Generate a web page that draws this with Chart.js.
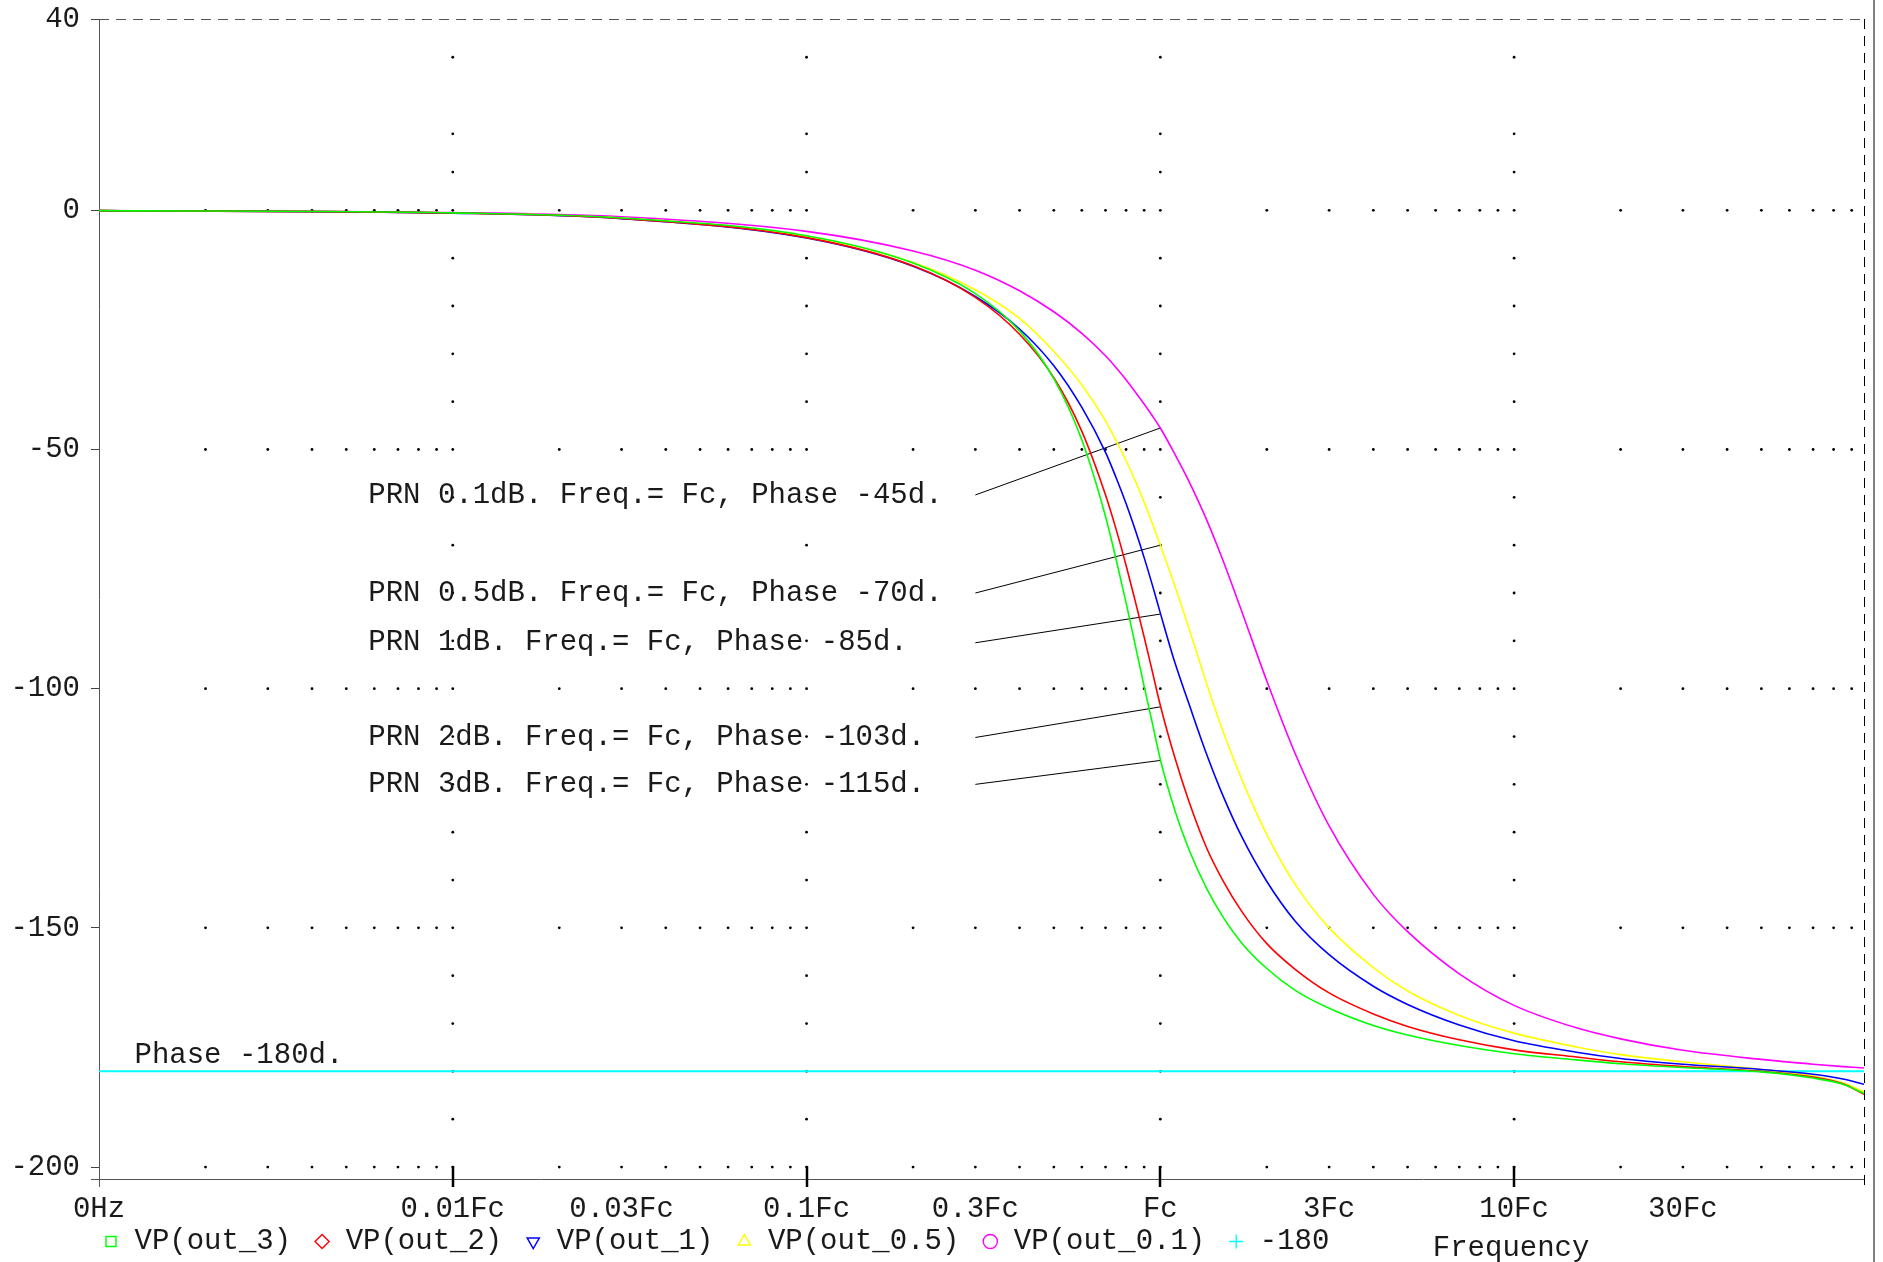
<!DOCTYPE html>
<html>
<head>
<meta charset="utf-8">
<title>Phase response</title>
<script src="https://cdn.jsdelivr.net/npm/chart.js@4.4.1/dist/chart.umd.min.js"></script>
<style>
  html, body { margin: 0; padding: 0; background: #fff; }
</style>
</head>
<body>
<canvas id="chart1" width="1883" height="1262"></canvas>
<script>
// frequency points, in units of Fc
var freq = [0.001, 0.01, 0.03, 0.1, 0.2, 0.3, 0.4, 0.5, 0.6, 0.7, 0.75, 0.8, 0.85, 0.9, 0.95,
  1, 1.1, 1.2, 1.35, 1.5, 1.7, 2, 2.4, 3, 4, 5, 7, 10, 15, 20, 30, 50, 70, 85, 97.5];

// phase in degrees
var out3 = [-0.06, -0.53, -1.6, -5.3, -11, -17.4, -25.2, -35.2, -48, -64, -73, -82, -91, -99.5, -107.3,
  -114.8, -125.5, -133.3, -141.7, -147.6, -153.2, -158.5, -163, -166.8, -170.4, -172.4, -174.6, -176.3, -177.6, -178.4, -179.2, -180.1, -181.4, -182.7, -184.6];
var out2 = [-0.06, -0.57, -1.7, -5.7, -11.6, -18.2, -25.9, -35, -46.2, -59.5, -66.7, -74.2, -81.8, -89.2, -96.5,
  -103.5, -114.5, -123.2, -133.2, -140, -146.6, -153.3, -158.6, -163.6, -168, -170.6, -173.4, -175.5, -177, -178, -179, -180, -181.2, -182.6, -184.8];
var out1 = [-0.06, -0.58, -1.75, -5.8, -11.7, -18, -24.8, -32.5, -41.2, -50.6, -55.9, -61.3, -66.9, -72.6, -78.4,
  -84.2, -94.6, -102.8, -113.6, -122.2, -131, -140.3, -148.5, -155.6, -162.2, -166, -170.3, -173.6, -176, -177.3, -178.5, -179.6, -180.6, -181.6, -182.7];
var out05 = [-0.06, -0.55, -1.6, -5.4, -10.9, -16.6, -22.6, -29.5, -36.5, -44, -48.2, -52.3, -56.6, -61, -65.5,
  -70, -78.6, -87, -98.8, -108.7, -119, -130.5, -140.8, -150, -158.3, -163.2, -168.3, -172, -174.9, -176.5, -178, -179.6, -181, -182.4, -184.3];
var out01 = [-0.05, -0.45, -1.35, -4.4, -8.5, -12.5, -16.8, -21.2, -25.7, -30.4, -32.9, -35.4, -38, -40.5, -43,
  -45.5, -51, -56.4, -64.6, -73, -83.9, -98.4, -113.4, -128.7, -143, -150.8, -159.6, -166.2, -170.9, -173.2, -175.6, -177.5, -178.5, -179, -179.3];
var refFreq = [0.001, 97.5];
var refPhase = [-180, -180];

var seriesNames = ["VP(out_3)", "VP(out_2)", "VP(out_1)", "VP(out_0.5)", "VP(out_0.1)", "-180"];
var seriesColors = ["#00ff00", "#ff0000", "#0000ff", "#ffff00", "#ff00ff", "#00ffff"];
var seriesMarks = ["rect", "rectRot", "triangle", "triangle", "circle", "cross"];
var seriesTurn = [0, 0, 180, 0, 0, 0];

// axes
var xMin = 0.001, xMax = 97.5;
var yMin = -202.5, yMax = 40;
var xTickVals = [0.001, 0.01, 0.03, 0.1, 0.3, 1, 3, 10, 30];
var xTickLabels = ["0Hz", "0.01Fc", "0.03Fc", "0.1Fc", "0.3Fc", "Fc", "3Fc", "10Fc", "30Fc"];
var yTickVals = [40, 0, -50, -100, -150, -200];
var decades = [0.01, 0.1, 1, 10];
var colDots = [32, 16, 8, -10, -20, -30, -40, -60, -70, -80, -90, -110, -120, -130, -140,
  -160, -170, -180, -190];

// notes
var noteText = [
  "PRN 0.1dB. Freq.= Fc, Phase -45d.",
  "PRN 0.5dB. Freq.= Fc, Phase -70d.",
  "PRN 1dB. Freq.= Fc, Phase -85d.",
  "PRN 2dB. Freq.= Fc, Phase -103d.",
  "PRN 3dB. Freq.= Fc, Phase -115d."
];
var noteFromY = [-59.5, -80, -90.4, -110.2, -120];
var noteToY = [-45.5, -70, -84.4, -103.8, -115];
var noteTextX = 0.00577, noteFromX = 0.3, noteToX = 1;
var phaseNote = "Phase -180d.";
var phaseNoteX = 0.00126, phaseNoteY = -176.6;

var FONT = '"Liberation Mono", "DejaVu Sans Mono", monospace';
Chart.defaults.font.family = FONT;
Chart.defaults.font.size = 29;
Chart.defaults.color = "#1a1a1a";

function pts(xs, ys) {
  return xs.map(function (f, i) { return { x: f, y: ys[i] }; });
}

var curves = [out3, out2, out1, out05, out01];
var datasets = curves.map(function (vals, i) {
  return {
    label: seriesNames[i],
    data: pts(freq, vals),
    borderColor: seriesColors[i],
    borderWidth: 1.6,
    pointRadius: 0,
    cubicInterpolationMode: "monotone",
  };
});
datasets.push({
  label: seriesNames[5],
  data: pts(refFreq, refPhase),
  borderColor: seriesColors[5],
  borderWidth: 2,
  pointRadius: 0,
});
// leader lines for the notes
noteText.forEach(function (t, i) {
  datasets.push({
    label: "note" + i,
    data: [{ x: noteFromX, y: noteFromY[i] }, { x: noteToX, y: noteToY[i] }],
    borderColor: "#000",
    borderWidth: 1,
    pointRadius: 0,
  });
});

function dot(ctx, x, y) {
  ctx.beginPath();
  ctx.arc(x, y, 1.4, 0, Math.PI * 2);
  ctx.fill();
}

// dotted grid, frame pieces and the free text
var plotExtras = {
  id: "plotExtras",
  afterLayout: function (chart) {
    // legend row starts just left of the plot, like the original
    chart.legend.left = chart.chartArea.left - 19;
    chart.legend.top += 4;
  },
  beforeDatasetsDraw: function (chart) {
    var ctx = chart.ctx, x = chart.scales.x, y = chart.scales.y;
    ctx.save();
    ctx.fillStyle = "#000";
    yTickVals.forEach(function (v) {
      if (v >= yMax) return;
      var py = y.getPixelForValue(v);
      for (var k = -3; k <= 1; k++) {
        for (var m = 1; m <= 9; m++) {
          var f = m * Math.pow(10, k);
          if (f < xMin * 1.01 || f > xMax) continue;
          dot(ctx, x.getPixelForValue(f), py);
        }
      }
    });
    decades.forEach(function (f) {
      var px = x.getPixelForValue(f);
      colDots.forEach(function (v) { dot(ctx, px, y.getPixelForValue(v)); });
    });
    ctx.restore();
  },
  afterDraw: function (chart) {
    var ctx = chart.ctx, a = chart.chartArea, x = chart.scales.x, y = chart.scales.y;
    ctx.save();
    // top and right edges of the frame
    ctx.setLineDash([10, 7]);
    ctx.lineWidth = 1;
    ctx.strokeStyle = "#555";
    ctx.beginPath();
    ctx.moveTo(a.left, a.top + 0.5);
    ctx.lineTo(a.right, a.top + 0.5);
    ctx.stroke();
    ctx.strokeStyle = "#000";
    ctx.beginPath();
    ctx.moveTo(a.right + 0.5, a.top);
    ctx.lineTo(a.right + 0.5, a.bottom + 8);
    ctx.stroke();
    ctx.setLineDash([]);
    // corner bits
    ctx.strokeStyle = "#555";
    ctx.beginPath();
    ctx.moveTo(a.left - 8, a.bottom + 0.5);
    ctx.lineTo(a.left, a.bottom + 0.5);
    ctx.moveTo(a.left + 0.5, a.bottom);
    ctx.lineTo(a.left + 0.5, a.bottom + 8);
    ctx.stroke();
    // decade ticks on the x axis
    ctx.strokeStyle = "#000";
    ctx.lineWidth = 2.5;
    decades.forEach(function (f) {
      var px = Math.round(x.getPixelForValue(f));
      ctx.beginPath();
      ctx.moveTo(px, a.bottom - 13);
      ctx.lineTo(px, a.bottom + 8);
      ctx.stroke();
    });
    // window edge on the right
    ctx.fillStyle = "#808080";
    ctx.fillRect(a.right + 9, 0, 2, chart.height);
    // texts
    ctx.fillStyle = "#1a1a1a";
    ctx.font = "29px " + FONT;
    ctx.textBaseline = "middle";
    ctx.textAlign = "left";
    noteText.forEach(function (t, i) {
      ctx.fillText(t, x.getPixelForValue(noteTextX), y.getPixelForValue(noteFromY[i]));
    });
    ctx.fillText(phaseNote, x.getPixelForValue(phaseNoteX), y.getPixelForValue(phaseNoteY));
    ctx.textAlign = "center";
    ctx.fillText("Frequency", x.getPixelForValue(10) - 3, a.bottom + 69);
    ctx.restore();
  },
};

var ctx = document.getElementById("chart1").getContext("2d");
var myChart = new Chart(ctx, {
  type: "line",
  data: { datasets: datasets },
  plugins: [plotExtras],
  options: {
    responsive: false,
    animation: false,
    events: [],
    layout: { padding: { left: 0, top: 19, right: 19, bottom: 0 } },
    scales: {
      x: {
        type: "logarithmic",
        min: xMin,
        max: xMax,
        afterBuildTicks: function (s) {
          s.ticks = xTickVals.map(function (v) { return { value: v }; });
        },
        afterFit: function (s) {
          s.height = 22;
          s.paddingLeft = 0;
          s.paddingRight = 0;
        },
        ticks: {
          autoSkip: false,
          maxRotation: 0,
          // mirrored so the labels are not clipped to the short axis box,
          // negative padding puts them back below the axis line
          mirror: true,
          padding: -48,
          callback: function (v, i) { return xTickLabels[i]; },
        },
        grid: { display: false, drawTicks: false },
        border: { display: true, color: "#555", width: 1, dash: [10, 7] },
      },
      y: {
        type: "linear",
        min: yMin,
        max: yMax,
        afterBuildTicks: function (s) {
          s.ticks = yTickVals.map(function (v) { return { value: v }; });
        },
        afterFit: function (s) {
          s.width = 99;
          s.paddingTop = 0;
          s.paddingBottom = 0;
        },
        ticks: {
          padding: 11,
          callback: function (v) { return String(v); },
        },
        grid: { drawOnChartArea: false, drawTicks: true, tickLength: 8, color: "#444" },
        border: { display: true, color: "#555", width: 1, dash: [10, 7] },
      },
    },
    plugins: {
      tooltip: { enabled: false },
      legend: {
        position: "bottom",
        align: "start",
        labels: {
          usePointStyle: true,
          boxWidth: 18,
          boxHeight: 10,
          padding: 22,
          color: "#1a1a1a",
          generateLabels: function (chart) {
            return seriesNames.map(function (name, i) {
              return {
                text: name,
                fillStyle: "rgba(0,0,0,0)",
                strokeStyle: seriesColors[i],
                lineWidth: 1.4,
                pointStyle: seriesMarks[i],
                rotation: seriesTurn[i],
                hidden: false,
                datasetIndex: i,
                fontColor: "#1a1a1a",
              };
            });
          },
        },
      },
    },
  },
});
</script>
</body>
</html>
